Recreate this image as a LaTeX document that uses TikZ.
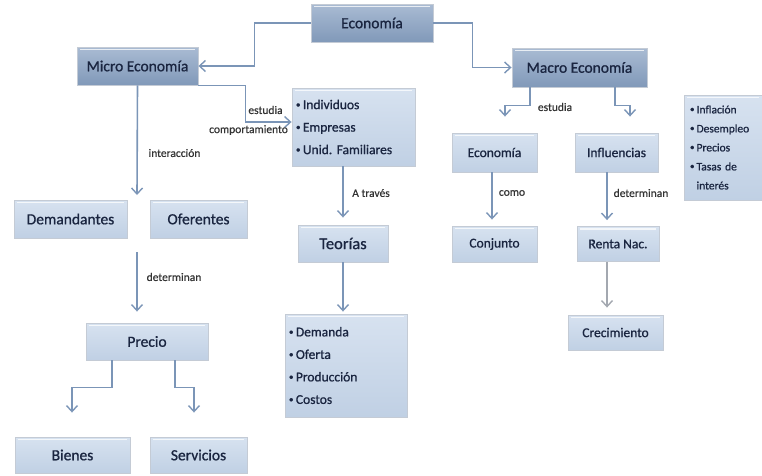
\documentclass[tikz,border=0pt]{standalone}
\usepackage{fontspec}
\setmainfont{Carlito}[FakeBold=0.9]
\newfontfamily\lblfont{Carlito}[FakeBold=0.5]
\usetikzlibrary{arrows.meta}
\definecolor{lnc}{HTML}{7B95B7}
\definecolor{lng}{HTML}{A3A8B0}
\definecolor{boxbd}{HTML}{C4CBD5}
\definecolor{lighttop}{HTML}{D7E2F0}
\definecolor{lightbot}{HTML}{C0D0E4}
\definecolor{darktop}{HTML}{A9BBD3}
\definecolor{darkbot}{HTML}{8199B9}
\definecolor{txt}{HTML}{1A2540}
\definecolor{lblc}{HTML}{333333}
\newcommand\bul{\raisebox{0.12em}{\fontsize{9}{9}\selectfont•}\hspace{0.18em}}
\begin{document}
\begin{tikzpicture}[x=1pt,y=-1pt,
  box/.style={draw=boxbd, line width=0.9pt, top color=lighttop, bottom color=lightbot,
    text=txt, font=\fontsize{13.5}{16}\selectfont, inner sep=0pt,
    path picture={\draw[white, opacity=0.75, line width=1.3pt]
      ([xshift=3pt,yshift=-2.5pt]path picture bounding box.north west) --
      ([xshift=-3pt,yshift=-2.5pt]path picture bounding box.north east);}},
  dbox/.style={box, top color=darktop, bottom color=darkbot, font=\fontsize{15.5}{18}\selectfont},
  big/.style={font=\fontsize{15.5}{18}\selectfont},
  sz/.style 2 args={minimum width=#1pt, minimum height=#2pt},
  listbox/.style={box, align=left, font=\fontsize{13.5}{22.5}\selectfont},
  arr/.style={draw=lnc, line width=1.6pt,
    -{Straight Barb[length=6pt,width=11pt,line width=1.4pt]}},
  lbl/.style={text=lblc, font=\lblfont\fontsize{11.5}{13}\selectfont, inner sep=0pt}
]
\useasboundingbox (0,0) rectangle (762,475);

% nodes
\node[dbox, sz={122}{38}] (eco) at (372,23) {Economía};
\node[dbox, sz={121}{38}] (micro) at (137.5,66) {Micro Economía};
\node[dbox, sz={135}{39}] (macro) at (579.5,67.5) {Macro Economía};

\node[listbox, sz={123}{78}, text width=115pt] (indiv) at (353.5,127)
  {\bul Individuos\\\bul Empresas\\\bul Unid.\ Familiares};
\node[box, big, sz={113}{38}] (dem) at (70.5,219) {Demandantes};
\node[box, big, sz={97}{38}] (ofe) at (198.5,219) {Oferentes};
\node[box, font=\fontsize{16.5}{19}\selectfont, sz={90}{37}] (teo) at (343,243.5) {Teorías};
\node[box, big, sz={122}{37}] (precio) at (147,341.5) {Precio};
\node[box, big, sz={115}{36}] (bienes) at (72.5,455) {Bienes};
\node[box, big, sz={97}{36}] (serv) at (198.5,455) {Servicios};
\node[listbox, sz={122}{103}, text width=114pt] (demanda) at (346,365.5)
  {\bul Demanda\\\bul Oferta\\\bul Producción\\\bul Costos};

\node[box, sz={85}{39}] (meco) at (494.5,152.5) {Economía};
\node[box, sz={83}{39}] (infl) at (616.5,152.5) {Influencias};
\node[box, align=left, font=\fontsize{11.5}{19}\selectfont, sz={78}{105}, text width=66pt] (inflac) at (723,147.5)
  {\bul Inflación\\\bul Desempleo\\\bul Precios\\\bul Tasas de\\\phantom{\bul}interés};
\node[box, sz={85}{36}] (conj) at (494.5,244) {Conjunto};
\node[box, sz={82}{35}] (renta) at (618,244) {Renta Nac.};
\node[box, sz={95}{35}] (crec) at (615.5,332.5) {Crecimiento};

\coordinate (c1) at (137,195);
\coordinate (c2) at (137,252);

% connectors
\draw[arr] (eco.west) -- ++(-56,0) |- (micro.east);
\draw[arr] (eco.east) -- ++(39,0) |- (macro.west);
\draw[arr] (micro.south east) -- ++(47,0) |- ([yshift=5pt]indiv.west);
\draw[arr] (micro.south) -- (c1);
\draw[arr, shorten >=11pt] (c2) -- (c2 |- precio.north);
\draw[arr] ([xshift=-35pt]precio.south) -- ++(0,27) -| ([xshift=-0.5pt,yshift=24pt]bienes.north);
\draw[arr] ([xshift=28pt]precio.south) -- ++(0,27) -| ([xshift=-4.5pt,yshift=24pt]serv.north);
\draw[arr, shorten >=7pt] (teo.north |- indiv.south) -- (teo.north);
\draw[arr, shorten >=2pt] (teo.south) -- (teo.south |- demanda.north);

\draw[arr] ([xshift=-49.5pt]macro.south) -- ++(0,18) -| ([xshift=10.5pt,yshift=16pt]meco.north);
\draw[arr] ([xshift=35.5pt]macro.south) -- ++(0,18) -| ([xshift=13.5pt,yshift=16pt]infl.north);
\draw[arr, shorten >=6pt] ([xshift=-2.5pt]meco.south) -- ([xshift=-2.5pt]conj.north);
\draw[arr, shorten >=6pt] ([xshift=-9.5pt]infl.south) -- ([xshift=-11pt]renta.north);
\draw[arr, draw=lng, shorten >=7pt] ([xshift=-11pt]renta.south) -- ([xshift=-8.5pt]crec.north);

% labels
\node[lbl] (l1) at (265.5,110) {estudia};
\node[lbl] (l2) at (248.5,130) {comportamiento};
\node[lbl] (l3) at (174.5,153) {interacción};
\node[lbl] (l4) at (174,277) {determinan};
\node[lbl] (l5) at (371,193) {A través};
\node[lbl] (l6) at (555,107) {estudia};
\node[lbl] (l7) at (512,193) {como};
\node[lbl] (l8) at (641,193) {determinan};
\end{tikzpicture}
\end{document}
